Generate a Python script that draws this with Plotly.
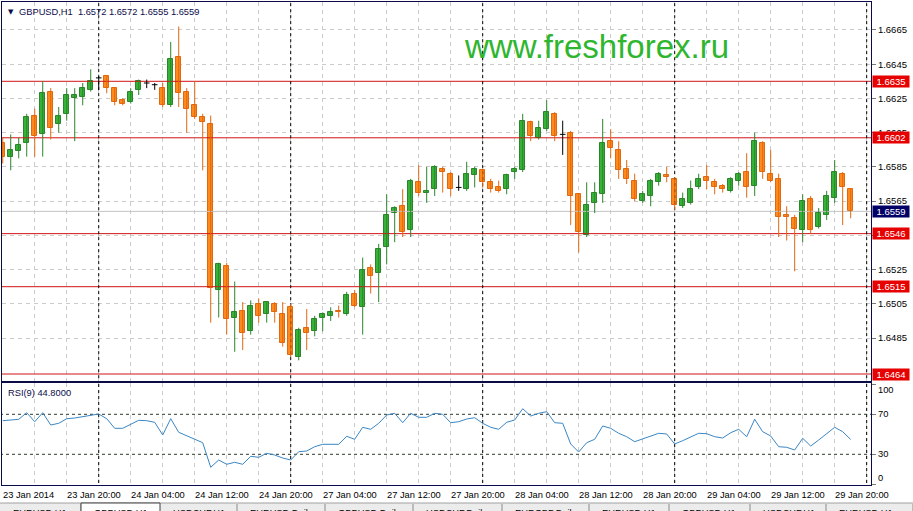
import plotly.graph_objects as go

# ---------------- data (GBPUSD H1) ----------------
opens = [1.6599, 1.6591, 1.6594, 1.6599, 1.6615, 1.6604, 1.6629, 1.6610, 1.6616, 1.6625,
         1.6626, 1.6630, 1.6637, 1.6638, 1.6631, 1.6624, 1.6623, 1.6630, 1.6634, 1.6633,
         1.6631, 1.6621, 1.6649, 1.6629, 1.6621, 1.6614, 1.6610, 1.6513, 1.6527, 1.6497,
         1.6501, 1.6489, 1.6505, 1.6499, 1.6505, 1.6499, 1.6503, 1.6474, 1.6491, 1.6489,
         1.6497, 1.6498, 1.6501, 1.6499, 1.6511, 1.6503, 1.6526, 1.6523, 1.6538, 1.6558,
         1.6562, 1.6548, 1.6576, 1.6570, 1.6572, 1.6584, 1.6581, 1.6573, 1.6572, 1.6580,
         1.6583, 1.6576, 1.6573, 1.6572, 1.6582, 1.6583, 1.6611, 1.6602, 1.6607, 1.6616,
         1.6604, 1.6605, 1.6569, 1.6545, 1.6564, 1.6569, 1.6600, 1.6595, 1.6584, 1.6577,
         1.6565, 1.6568, 1.6576, 1.6580, 1.6578, 1.6562, 1.6564, 1.6573, 1.6579, 1.6576,
         1.6574, 1.6571, 1.6577, 1.6582, 1.6574, 1.6599, 1.6581, 1.6578, 1.6557, 1.6555,
         1.6548, 1.6566, 1.6550, 1.6557, 1.6567, 1.6581, 1.6572]
highs = [1.6602, 1.6604, 1.6602, 1.6616, 1.6619, 1.6635, 1.6631, 1.6620, 1.6631, 1.6631,
         1.6634, 1.6642, 1.6638, 1.6638, 1.6631, 1.6625, 1.6631, 1.6636, 1.6636, 1.6634,
         1.6634, 1.6658, 1.6667, 1.6631, 1.6635, 1.6616, 1.6615, 1.6529, 1.6529, 1.6518,
         1.6506, 1.6507, 1.6508, 1.6506, 1.6506, 1.6506, 1.6505, 1.6491, 1.6502, 1.6498,
         1.6500, 1.6503, 1.6504, 1.6512, 1.6513, 1.6532, 1.6528, 1.6540, 1.6569, 1.6562,
         1.6572, 1.6578, 1.6586, 1.6585, 1.6586, 1.6585, 1.6582, 1.6580, 1.6588, 1.6585,
         1.6584, 1.6578, 1.6577, 1.6581, 1.6585, 1.6616, 1.6612, 1.6612, 1.6624, 1.6617,
         1.6612, 1.6606, 1.6569, 1.6576, 1.6576, 1.6613, 1.6607, 1.6600, 1.6589, 1.6581,
         1.6571, 1.6578, 1.6582, 1.6585, 1.6579, 1.6570, 1.6577, 1.6581, 1.6586, 1.6578,
         1.6575, 1.6579, 1.6582, 1.6593, 1.6605, 1.6600, 1.6595, 1.6581, 1.6562, 1.6557,
         1.6569, 1.6568, 1.6561, 1.6571, 1.6589, 1.6582, 1.6572]
lows = [1.6587, 1.6583, 1.6590, 1.6591, 1.6591, 1.6591, 1.6601, 1.6605, 1.6612, 1.6600,
        1.6621, 1.6629, 1.6630, 1.6628, 1.6621, 1.6621, 1.6622, 1.6627, 1.6631, 1.6630,
        1.6620, 1.6620, 1.6620, 1.6605, 1.6613, 1.6583, 1.6494, 1.6497, 1.6487, 1.6477,
        1.6478, 1.6487, 1.6494, 1.6494, 1.6494, 1.6480, 1.6474, 1.6472, 1.6478, 1.6486,
        1.6489, 1.6495, 1.6497, 1.6498, 1.6503, 1.6487, 1.6511, 1.6506, 1.6528, 1.6541,
        1.6544, 1.6544, 1.6568, 1.6564, 1.6568, 1.6570, 1.6568, 1.6571, 1.6571, 1.6573,
        1.6573, 1.6570, 1.6570, 1.6569, 1.6578, 1.6582, 1.6600, 1.6601, 1.6606, 1.6600,
        1.6592, 1.6551, 1.6535, 1.6544, 1.6558, 1.6564, 1.6590, 1.6578, 1.6575, 1.6565,
        1.6564, 1.6562, 1.6574, 1.6576, 1.6560, 1.6561, 1.6563, 1.6572, 1.6572, 1.6569,
        1.6570, 1.6570, 1.6574, 1.6567, 1.6568, 1.6578, 1.6576, 1.6544, 1.6542, 1.6524,
        1.6541, 1.6546, 1.6549, 1.6554, 1.6564, 1.6551, 1.6555]
closes = [1.6591, 1.6595, 1.6598, 1.6614, 1.6603, 1.6628, 1.6608, 1.6615, 1.6627, 1.6627,
          1.6631, 1.6635, 1.6637, 1.6631, 1.6623, 1.6622, 1.6629, 1.6635, 1.6634, 1.6633,
          1.6621, 1.6648, 1.6628, 1.6619, 1.6614, 1.6611, 1.6514, 1.6528, 1.6496, 1.6500,
          1.6488, 1.6504, 1.6498, 1.6506, 1.6500, 1.6482, 1.6475, 1.6490, 1.6488, 1.6496,
          1.6499, 1.6500, 1.6500, 1.6510, 1.6504, 1.6525, 1.6521, 1.6537, 1.6557, 1.6561,
          1.6547, 1.6577, 1.6570, 1.6571, 1.6585, 1.6582, 1.6572, 1.6573, 1.6581, 1.6584,
          1.6576, 1.6572, 1.6571, 1.6580, 1.6584, 1.6612, 1.6603, 1.6608, 1.6617, 1.6603,
          1.6604, 1.6568, 1.6547, 1.6563, 1.6570, 1.6599, 1.6596, 1.6583, 1.6578, 1.6566,
          1.6569, 1.6577, 1.6581, 1.6579, 1.6563, 1.6566, 1.6572, 1.6578, 1.6577, 1.6573,
          1.6572, 1.6578, 1.6581, 1.6573, 1.6600, 1.6582, 1.6577, 1.6556, 1.6556, 1.6549,
          1.6565, 1.6548, 1.6558, 1.6568, 1.6582, 1.6573, 1.6559]
rsi9 = [63.6, 64.3, 65.0, 71.6, 62.6, 71.6, 59.3, 61.0, 65.6, 66.3,
        67.6, 69.0, 70.3, 65.6, 56.0, 56.0, 60.0, 64.0, 63.6, 62.0,
        49.3, 65.6, 52.0, 48.3, 45.0, 41.6, 17.0, 24.3, 20.0, 22.0,
        20.0, 28.0, 27.0, 31.0, 29.3, 26.3, 24.3, 32.6, 33.3, 37.6,
        40.0, 40.0, 40.0, 48.0, 45.0, 57.0, 55.0, 61.0, 69.3, 71.0,
        61.6, 71.0, 67.0, 67.0, 71.0, 70.0, 61.6, 62.6, 65.3, 66.6,
        61.0, 57.0, 55.0, 62.0, 64.3, 75.6, 68.3, 71.0, 72.6, 61.6,
        61.0, 40.3, 32.3, 41.6, 45.0, 58.3, 56.0, 51.0, 47.6, 42.6,
        45.3, 48.3, 51.0, 50.3, 40.3, 43.6, 47.6, 51.0, 50.6, 47.6,
        46.3, 51.6, 55.0, 47.6, 65.0, 52.6, 48.3, 37.6, 37.0, 34.3,
        46.0, 38.3, 44.3, 51.0, 57.0, 52.6, 44.8]
time_labels = ["23 Jan 2014", "23 Jan 20:00", "24 Jan 04:00", "24 Jan 12:00", "24 Jan 20:00",
               "27 Jan 04:00", "27 Jan 12:00", "27 Jan 20:00", "28 Jan 04:00", "28 Jan 12:00",
               "28 Jan 20:00", "29 Jan 04:00", "29 Jan 12:00", "29 Jan 20:00"]
label_bars = [0, 8, 16, 24, 32, 40, 48, 56, 64, 72, 80, 88, 96, 104]
day_start_bars = [12, 36, 60, 84, 108]
level_lines = [1.6635, 1.6602, 1.6546, 1.6515, 1.6464]
bid_price = 1.6559
price_ticks = [1.6485, 1.6505, 1.6525, 1.6545, 1.6565, 1.6585, 1.6605, 1.6625, 1.6645, 1.6665]
rsi_levels = [30, 70]
rsi_labels = [0, 30, 70, 100]
tab_names = ["EURUSD,H1", "GBPUSD,H1", "USDCHF,H1", "EURUSD,Daily", "GBPUSD,Daily",
             "USDCHF,Daily", "EURGBP,Daily", "EURUSD,H1", "GBPUSD,H1", "USDCHF,H1", "EURUSD,H1"]
symbol = "GBPUSD,H1"

# ---------------- styling ----------------
W, H = 913, 511
ML, MR, MT, MB = 2, 42, 2, 26
FONT = "Liberation Sans, Arial, sans-serif"
NAVY = "#0b0b4a"
BULL_FILL, BULL_LINE = "#36b336", "#2b852b"
BEAR_FILL, BEAR_LINE = "#ff8a1c", "#e0680e"
GRID = "#cbcbcb"
XR = [-0.09, 108.54]
YR_MAIN = [1.645991, 1.668133]
YR_RSI = [-0.7, 101.8]

plot_w = W - ML - MR
plot_h = H - MT - MB
def pyp(py):  # pixel row -> paper y
    return (H - MB - py) / plot_h
def pxp(px):  # pixel column -> paper x
    return (px - ML) / plot_w

n = len(opens)
idx = list(range(n))
bull = [i for i in idx if closes[i] > opens[i]]
bear = [i for i in idx if closes[i] < opens[i]]
doji = [i for i in idx if closes[i] == opens[i]]

fig = go.Figure()

def seg_trace(xs, ys, color, dash=None, xa="x", ya="y"):
    fig.add_trace(go.Scatter(x=xs, y=ys, mode="lines", xaxis=xa, yaxis=ya,
                             line=dict(color=color, width=1, dash=dash),
                             hoverinfo="skip", showlegend=False))

# horizontal levels, bid line and day separators (drawn under the candles)
lx, ly = [], []
for v in level_lines:
    lx += [XR[0] - 1, XR[1] + 1, None]
    ly += [v, v, None]
seg_trace(lx, ly, "#d21414")
seg_trace([XR[0] - 1, XR[1] + 1], [bid_price, bid_price], "#c4c4c4")
sx, sy, rx, ry = [], [], [], []
for k in day_start_bars:
    sx += [k, k, None]
    sy += [YR_MAIN[0] - 0.01, YR_MAIN[1] + 0.01, None]
    rx += [k, k, None]
    ry += [YR_RSI[0] - 10, YR_RSI[1] + 10, None]
seg_trace(sx, sy, "#000000", dash="3px,3px")
seg_trace(rx, ry, "#000000", dash="3px,3px", xa="x2", ya="y2")
hx, hy = [], []
for v in rsi_levels:
    hx += [XR[0] - 1, XR[1] + 1, None]
    hy += [v, v, None]
seg_trace(hx, hy, "#2a3a2a", dash="3px,3px", xa="x2", ya="y2")

def wicks(ids):
    xs, ys = [], []
    for i in ids:
        xs += [i, i, None]
        ys += [lows[i], highs[i], None]
    return xs, ys

for ids, lc in ((bull, BULL_LINE), (bear, BEAR_LINE), (doji, "#000000")):
    wx, wy = wicks(ids)
    seg_trace(wx, wy, lc)
dx, dy = [], []
for i in doji:
    dx += [i - 0.35, i + 0.35, None]
    dy += [opens[i], opens[i], None]
seg_trace(dx, dy, "#000000")
for ids, fc, lc in ((bull, BULL_FILL, BULL_LINE), (bear, BEAR_FILL, BEAR_LINE)):
    fig.add_trace(go.Bar(x=ids, y=[abs(closes[i] - opens[i]) for i in ids],
                         base=[min(opens[i], closes[i]) for i in ids], width=0.62,
                         marker=dict(color=fc, line=dict(color=lc, width=1)),
                         showlegend=False, hoverinfo="skip"))
fig.add_trace(go.Scatter(x=idx, y=rsi9, mode="lines", xaxis="x2", yaxis="y2",
                         line=dict(color="#3a86c4", width=1), showlegend=False))

shapes = []
# tab strip at the very bottom
tab_edges = [0, 81, 160, 237, 325, 413, 502, 589, 669, 750, 826, 913]
shapes.append(dict(type="rect", xref="paper", yref="paper", x0=pxp(0), x1=pxp(W),
                   y0=pyp(H + 2), y1=pyp(503), fillcolor="#ececec", line=dict(width=0)))
shapes.append(dict(type="line", xref="paper", yref="paper", x0=pxp(0), x1=pxp(W),
                   y0=pyp(503), y1=pyp(503), line=dict(color="#a0a0a0", width=1)))
for j in range(len(tab_names)):
    a, b = tab_edges[j], tab_edges[j + 1]
    if j == 1:
        shapes.append(dict(type="rect", xref="paper", yref="paper", x0=pxp(a), x1=pxp(b),
                           y0=pyp(H + 2), y1=pyp(503), fillcolor="#ffffff",
                           line=dict(color="#404040", width=1)))
    else:
        shapes.append(dict(type="line", xref="paper", yref="paper", x0=pxp(b), x1=pxp(b),
                           y0=pyp(H + 2), y1=pyp(504), line=dict(color="#8a8a8a", width=1)))

ann = []
ann.append(dict(xref="paper", yref="paper", x=0, y=1, xanchor="left", yanchor="middle",
                xshift=4, yshift=-10, text="▼", showarrow=False,
                font=dict(family="DejaVu Sans", size=7, color=NAVY)))
ann.append(dict(xref="paper", yref="paper", x=0, y=1, xanchor="left", yanchor="middle",
                xshift=15, yshift=-10, showarrow=False,
                text=f"{symbol}&nbsp; {opens[-1]:.4f} {highs[-1]:.4f} {lows[-1]:.4f} {closes[-1]:.4f}",
                font=dict(family=FONT, size=9.3, color=NAVY)))
ann.append(dict(xref="paper", yref="paper", x=pxp(596), y=pyp(46), xanchor="center",
                yanchor="middle", text="www.freshforex.ru", showarrow=False,
                font=dict(family=FONT, size=33, color="#2fb62f")))
ann.append(dict(xref="paper", yref="paper", x=0, y=pyp(382.5), xanchor="left", yanchor="middle",
                xshift=4, yshift=-10, text=f"RSI(9) {rsi9[-1]:.4f}", showarrow=False,
                font=dict(family=FONT, size=9.3, color=NAVY)))
for v in level_lines:
    ann.append(dict(xref="paper", yref="y", x=1, y=v, xanchor="left", yanchor="middle", xshift=1,
                    text=f"{v:.4f}", showarrow=False, bgcolor="#e60000", width=36, height=11,
                    borderpad=0, font=dict(family=FONT, size=9.5, color="#ffffff")))
ann.append(dict(xref="paper", yref="y", x=1, y=bid_price, xanchor="left", yanchor="middle", xshift=1,
                text=f"{bid_price:.4f}", showarrow=False, bgcolor="#000066", width=36, height=11,
                borderpad=0, font=dict(family=FONT, size=9.5, color="#ffffff")))
rsi_label_shift = {100: -6, 70: 0, 30: 0, 0: 6}
for v in rsi_labels:
    ann.append(dict(xref="paper", yref="y2", x=1, y=v, xanchor="left", yanchor="middle", xshift=5,
                    yshift=rsi_label_shift[v], text=str(v), showarrow=False,
                    font=dict(family=FONT, size=9.3, color="#000000")))
for k, t in zip(label_bars, time_labels):
    ann.append(dict(xref="x2", yref="paper", x=k, y=0, xanchor="left", yanchor="middle",
                    xshift=-2, yshift=-10, text=t, showarrow=False,
                    font=dict(family=FONT, size=9.3, color="#000000")))
for j, name in enumerate(tab_names):
    ann.append(dict(xref="paper", yref="paper", x=pxp(tab_edges[j]), y=pyp(513), xanchor="left",
                    yanchor="middle", xshift=11, text=name, showarrow=False,
                    font=dict(family=FONT, size=9.3, color="#000000")))

fig.update_layout(
    width=W, height=H, margin=dict(l=ML, r=MR, t=MT, b=MB, autoexpand=False),
    paper_bgcolor="#ffffff", plot_bgcolor="#ffffff", barmode="overlay", bargap=0,
    showlegend=False, shapes=shapes, annotations=ann,
    font=dict(family=FONT, size=9.3, color="#000000"),
    xaxis=dict(domain=[0, 1], range=XR, anchor="y", showticklabels=False, showgrid=True,
               tick0=0, dtick=4, gridcolor=GRID, griddash="4px,4px", zeroline=False,
               showline=True, mirror=True, linecolor=NAVY, linewidth=1, ticks=""),
    yaxis=dict(domain=[pyp(381), 1], range=YR_MAIN, side="right", anchor="x",
               tickvals=price_ticks, ticktext=[f"{v:.4f}" for v in price_ticks],
               showgrid=True, gridcolor=GRID, griddash="4px,4px", zeroline=False,
               showline=True, mirror=True, linecolor=NAVY, linewidth=1,
               ticks="outside", ticklen=4, tickcolor="#7a7a7a",
               tickfont=dict(family=FONT, size=9.5, color="#000000"), automargin=False),
    xaxis2=dict(domain=[0, 1], range=XR, anchor="y2", showticklabels=False, showgrid=True,
                tick0=0, dtick=4, gridcolor=GRID, griddash="4px,4px", zeroline=False,
                showline=True, mirror=True, linecolor=NAVY, linewidth=1),
    yaxis2=dict(domain=[0, pyp(382.5)], range=YR_RSI, side="right", anchor="x2",
                tickvals=rsi_labels, showticklabels=False, showgrid=False, zeroline=False,
                showline=True, mirror=True, linecolor=NAVY, linewidth=1,
                ticks="outside", ticklen=4, tickcolor="#7a7a7a", automargin=False),
)
fig.write_html("out.html", config={"displayModeBar": False},
               post_script="document.body.style.margin='0';document.body.style.overflow='hidden';")
